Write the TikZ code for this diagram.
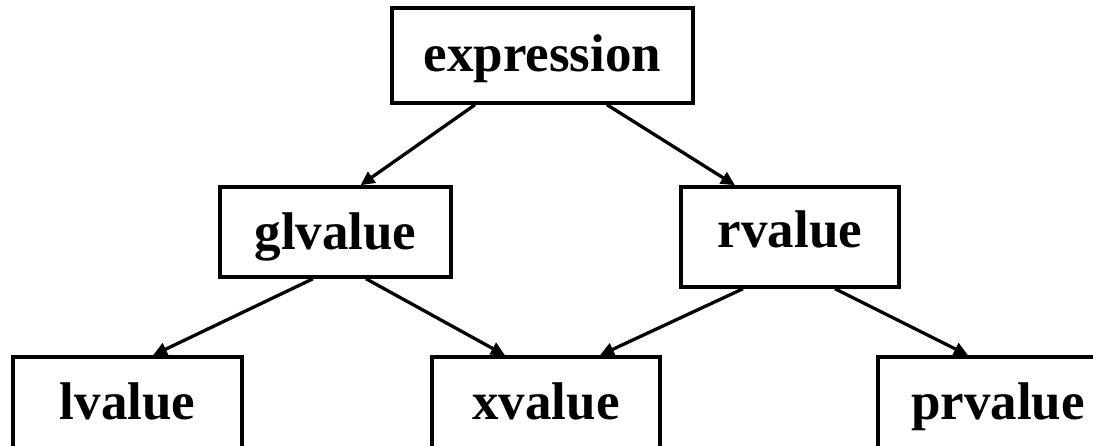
\documentclass[tikz,border=0pt]{standalone}
\usepackage{fontspec}
\setmainfont{Liberation Serif}
\usetikzlibrary{arrows.meta}
\tikzset{
  cat/.style={draw=black, line width=3.5pt, fill=white, inner sep=0pt,
    font=\fontsize{53}{60}\selectfont\bfseries, text depth=0pt},
  conn/.style={line width=3.3pt, -{Triangle[length=14pt,width=13pt]}}
}
\begin{document}
\begin{tikzpicture}[x=1pt,y=-1pt]
\useasboundingbox (0,0) rectangle (1093,446);
\clip (0,0) rectangle (1093,446);
\node[cat, minimum width=301pt, minimum height=95pt, text height=33pt] (e) at (542.5,55.5) {expression};
\node[cat, minimum width=231pt, minimum height=90pt, text height=36pt] (gl) at (335.5,232) {glvalue};
\node[cat, minimum width=218pt, minimum height=100pt, text height=22pt] (rv) at (790,237) {rvalue};
\node[cat, minimum width=229pt, minimum height=95pt, text height=31pt] (lv) at (127.5,404.5) {lvalue};
\node[cat, minimum width=228pt, minimum height=95pt, text height=31pt] (xv) at (546,404.5) {xvalue};
\node[cat, minimum width=240pt, minimum height=95pt, text height=31pt] (pr) at (998,404.5) {prvalue};
\draw[conn] ([xshift=-67.5pt]e.south) -- ([xshift=25pt]gl.north);
\draw[conn] ([xshift=64.5pt]e.south) -- ([xshift=-55pt]rv.north);
\draw[conn] ([xshift=-22.5pt]gl.south) -- ([xshift=25.5pt]lv.north);
\draw[conn] ([xshift=30.5pt]gl.south) -- ([xshift=-41pt]xv.north);
\draw[conn] ([xshift=-47pt]rv.south) -- ([xshift=54pt]xv.north);
\draw[conn] ([xshift=45pt]rv.south) -- ([xshift=-30pt]pr.north);
\end{tikzpicture}
\end{document}
